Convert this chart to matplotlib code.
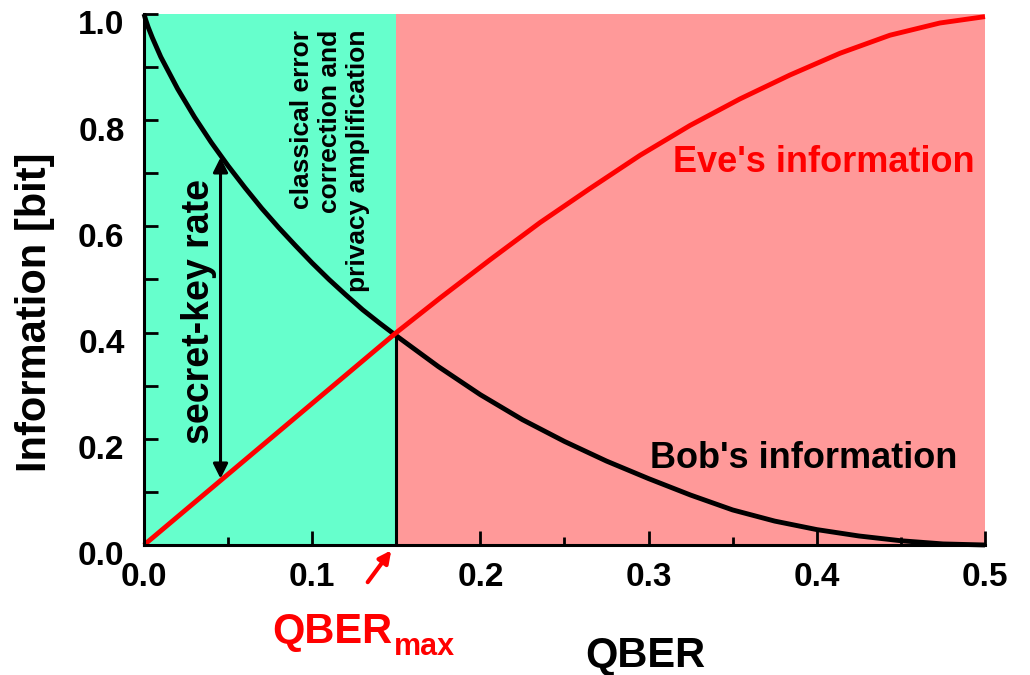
import matplotlib
matplotlib.use("Agg")
import matplotlib.pyplot as plt
from matplotlib.ticker import MultipleLocator
import matplotlib.transforms as mtransforms

plt.rcParams['font.family'] = ['Liberation Sans', 'DejaVu Sans']
plt.rcParams['font.weight'] = 'bold'

# valores
qber_max = 0.15

q_bob = [0.0, 0.001, 0.0025, 0.005, 0.01, 0.02, 0.03, 0.04, 0.05, 0.06, 0.07, 0.08,
         0.09, 0.10, 0.11, 0.12, 0.13, 0.14, 0.15, 0.175, 0.2, 0.225, 0.25, 0.275,
         0.3, 0.325, 0.35, 0.375, 0.4, 0.425, 0.45, 0.475, 0.5]
bob = [1.0, 0.989, 0.975, 0.955, 0.919, 0.859, 0.806, 0.758, 0.714, 0.673, 0.634, 0.598,
       0.564, 0.531, 0.500, 0.471, 0.443, 0.418, 0.394, 0.336, 0.283, 0.236, 0.195, 0.158,
       0.125, 0.094, 0.066, 0.045, 0.029, 0.017, 0.008, 0.002, 0.0]

q_eve = [0.0, 0.15, 0.176, 0.2057, 0.2354, 0.265, 0.295, 0.3246, 0.3543, 0.384,
         0.4138, 0.4435, 0.4732, 0.5]
eve = [0.0, 0.40, 0.465, 0.537, 0.607, 0.671, 0.734, 0.790, 0.840, 0.885,
       0.926, 0.960, 0.983, 0.995]

x_ticks = [0.0, 0.1, 0.2, 0.3, 0.4, 0.5]
y_ticks = [0.0, 0.2, 0.4, 0.6, 0.8, 1.0]

verde = '#66FFCC'
rosa = '#FF9999'

fig = plt.figure(figsize=(10.3, 6.75), dpi=100)
ax = fig.add_axes([0.1398, 0.1926, 0.8165, 0.7867])

# regioes
ax.axvspan(0, qber_max, color=verde, zorder=0, lw=0)
ax.axvspan(qber_max, 0.5, color=rosa, zorder=0, lw=0)

# curvas
ax.plot(q_bob, bob, color='black', lw=3.5, zorder=3, clip_on=False, solid_capstyle='butt')
ax.plot(q_eve, eve, color='#FF0000', lw=3.5, zorder=4, clip_on=False, solid_capstyle='butt')
ax.plot([qber_max, qber_max], [0, 0.40], color='black', lw=2.2, zorder=2)

# seta da taxa de chave secreta
ax.annotate('', xy=(0.0455, 0.73), xytext=(0.0455, 0.125),
            arrowprops=dict(arrowstyle='<|-|>', color='black', lw=2.2, mutation_scale=22,
                            shrinkA=0, shrinkB=0), zorder=5)
ax.text(0.0327, 0.439, 'secret-key rate', rotation=90, ha='center', va='center',
        fontsize=27, fontweight='bold')
ax.text(0.1106, 0.970, 'classical error\ncorrection and\nprivacy amplification',
        rotation=90, ha='center', va='top', multialignment='right',
        fontsize=19, fontweight='bold')

ax.text(0.494, 0.702, "Eve's information", color='#FF0000', ha='right', va='baseline',
        fontsize=26, fontweight='bold')
ax.text(0.4834, 0.145, "Bob's information", color='black', ha='right', va='baseline',
        fontsize=26, fontweight='bold')

# QBER_max
ax.annotate('', xy=(0.147, -0.01), xytext=(0.133, -0.07),
            arrowprops=dict(arrowstyle='-|>', color='#FF0000', lw=3, mutation_scale=18,
                            shrinkA=0, shrinkB=0), annotation_clip=False)
ax.text(0.152, -0.1846, 'QBER', color='#FF0000', transform=ax.transAxes,
        ha='left', va='baseline', fontsize=30, fontweight='bold')
ax.text(0.297, -0.207, 'max', color='#FF0000', transform=ax.transAxes,
        ha='left', va='baseline', fontsize=22, fontweight='bold')

# eixos
ax.set_xlim(0, 0.5)
ax.set_ylim(0, 1)
ax.set_xticks(x_ticks)
ax.set_yticks(y_ticks)
ax.set_xticklabels([f'{v:.1f}' for v in x_ticks])
ax.set_yticklabels([f'{v:.1f}' for v in y_ticks])
ax.xaxis.set_minor_locator(MultipleLocator(0.05))
ax.yaxis.set_minor_locator(MultipleLocator(0.1))
ax.tick_params(which='major', direction='in', length=10, width=2, labelsize=24, pad=12)
ax.tick_params(axis='x', which='minor', direction='in', length=6, width=2)
ax.tick_params(axis='y', which='minor', direction='in', length=10, width=2)
ax.tick_params(axis='y', pad=14)

off = mtransforms.ScaledTranslation(0, -6 / 72, fig.dpi_scale_trans)
for lab in ax.get_yticklabels():
    lab.set_transform(lab.get_transform() + off)

for lado in ['top', 'right']:
    ax.spines[lado].set_visible(False)
for lado in ['left', 'bottom']:
    ax.spines[lado].set_linewidth(2.2)
    ax.spines[lado].set_zorder(6)

ax.set_xlabel('QBER', fontsize=30, fontweight='bold')
ax.xaxis.set_label_coords(0.596, -0.171)
ax.xaxis.label.set_va('top')
ax.set_ylabel('Information [bit]', fontsize=30, fontweight='bold')
ax.yaxis.set_label_coords(-0.106, 0.439)

fig.savefig('out.png', dpi=100)
